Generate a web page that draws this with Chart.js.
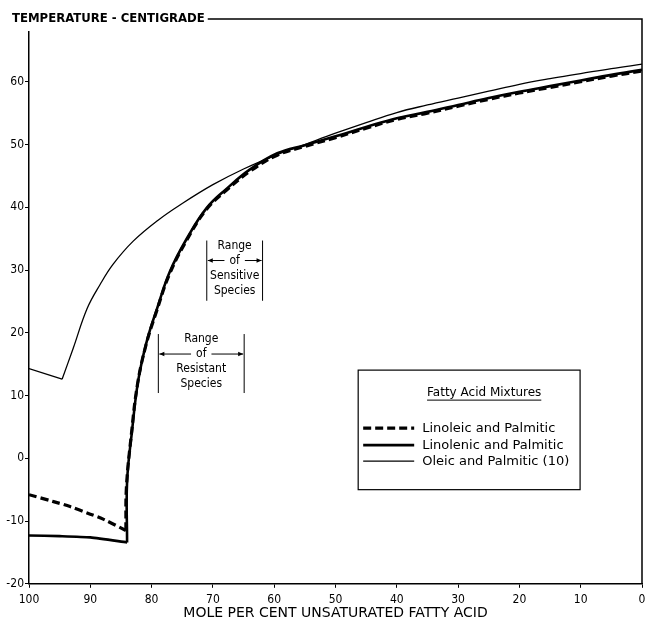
<!DOCTYPE html>
<html><head><meta charset="utf-8">
<script src="https://cdn.jsdelivr.net/npm/chart.js@4/dist/chart.umd.min.js"></script>
<style>html,body{margin:0;padding:0;background:#fff}canvas{display:block}</style>
</head><body>
<canvas id="c" width="646" height="627"></canvas>
<script>
const FONT = '"DejaVu Sans Condensed","Liberation Sans Narrow","DejaVu Sans",sans-serif';
const FONT_W = '"DejaVu Sans","Liberation Sans",sans-serif';

// ---- data ----
const yTitle = 'TEMPERATURE - CENTIGRADE';
const xTitle = 'MOLE PER CENT UNSATURATED FATTY ACID';
const seriesLabels = ['Linoleic and Palmitic', 'Linolenic and Palmitic', 'Oleic and Palmitic (10)'];
const legendTitle = 'Fatty Acid Mixtures';

const linoleicX = [100, 96, 93.3, 90, 87.9, 84.2, 84.1, 83.3, 82.3, 80.9, 79.2, 77.1, 74.3, 71.1, 67.8, 64.0, 59.5, 55.0, 50, 45, 40, 35, 30, 25, 20, 15, 10, 5, 0];
const linoleicY = [-5.8, -6.9, -7.7, -8.9, -9.7, -11.5, -4.5, 3.8, 11.8, 18.1, 23.4, 29.3, 34.7, 39.6, 42.7, 45.7, 48.3, 49.7, 51.1, 52.6, 54.0, 55.0, 56.1, 57.2, 58.2, 59.1, 60.0, 60.9, 61.7];
const linoleicCorner = 5;

const linolenicX = [100, 95, 90, 84.0, 84.0, 83.2, 82.2, 80.8, 79.1, 77.0, 74.2, 71.0, 67.7, 64.0, 59.5, 55.0, 50, 45, 40, 35, 30, 25, 20, 15, 10, 5, 0];
const linolenicY = [-12.3, -12.4, -12.6, -13.4, -3.7, 4.3, 12.3, 18.6, 23.9, 29.8, 35.1, 39.9, 43.0, 46.0, 48.6, 49.9, 51.3, 52.8, 54.2, 55.2, 56.3, 57.4, 58.4, 59.3, 60.2, 61.1, 61.9];
const linolenicCorner = 3;

const oleicX = [100, 94.6, 92.8, 90.5, 88.4, 86.3, 83.0, 79.0, 75.0, 70.0, 65.0, 60.0, 55.0, 50.0, 45.0, 40.0, 35.0, 30.0, 25.0, 20.0, 15.0, 10.0, 5.0, 0];
const oleicY = [14.3, 12.6, 17.5, 23.9, 27.7, 30.9, 34.6, 37.9, 40.6, 43.6, 46.1, 48.2, 50.0, 51.8, 53.5, 55.1, 56.3, 57.4, 58.5, 59.6, 60.5, 61.3, 62.1, 62.8];
const oleicCorner = 1;

const rangeLines = [['Range', 'of', 'Sensitive', 'Species'], ['Range', 'of', 'Resistant', 'Species']];
const rangeFrom = [71.0, 78.9];
const rangeTo = [61.9, 64.9];

const xMin = 0, xMax = 100, xStep = 10;
const yMin = -20, yMax = 70, yStep = 10;

// ---- build datasets ----
function pts(xs, ys, a, b) {
  const out = [];
  for (let i = a; i < b; i++) out.push({x: xs[i], y: ys[i]});
  return out;
}
const styles = [
  {borderWidth: 3.2, borderDash: [8, 4], order: 1},
  {borderWidth: 2.6, borderDash: [], order: 2},
  {borderWidth: 1.3, borderDash: [], order: 0}
];
const series = [
  [linoleicX, linoleicY, linoleicCorner, 0.3],
  [linolenicX, linolenicY, linolenicCorner, 0.2],
  [oleicX, oleicY, oleicCorner, 0]
];
const datasets = [];
series.forEach((s, i) => {
  const [xs, ys, c, t0] = s;
  const base = {label: seriesLabels[i], borderColor: '#000', backgroundColor: '#000', pointRadius: 0,
    fill: false, borderWidth: styles[i].borderWidth, borderDash: styles[i].borderDash, order: styles[i].order,
    borderCapStyle: 'butt', borderJoinStyle: 'miter'};
  datasets.push(Object.assign({}, base, {data: pts(xs, ys, 0, c + 1), tension: t0}));
  datasets.push(Object.assign({}, base, {data: pts(xs, ys, c, xs.length), tension: 0.4}));
});

const decor = {
  id: 'decor',
  afterDraw(chart) {
    const {ctx, chartArea: ca, scales: {x, y}} = chart;
    ctx.save();
    ctx.strokeStyle = '#000';
    ctx.fillStyle = '#000';
    // vertical-axis title at top-left, then frame top and right
    ctx.font = 'bold 13px ' + FONT;
    ctx.textAlign = 'left';
    ctx.textBaseline = 'middle';
    const tw = ctx.measureText(yTitle).width;
    ctx.fillStyle = '#fff';
    ctx.fillRect(10, ca.top - 10, tw + 4, 22);
    ctx.fillStyle = '#000';
    ctx.fillText(yTitle, 12, ca.top);
    ctx.lineWidth = 1.5;
    ctx.beginPath();
    ctx.moveTo(12 + tw + 3, ca.top);
    ctx.lineTo(ca.right, ca.top);
    ctx.lineTo(ca.right, ca.bottom);
    ctx.stroke();

    // range annotations
    const tops = [y.getPixelForValue(34.7), y.getPixelForValue(19.8)];
    const bots = [y.getPixelForValue(25.1), y.getPixelForValue(10.4)];
    ctx.font = '12px ' + FONT;
    ctx.textAlign = 'center';
    ctx.textBaseline = 'middle';
    rangeLines.forEach((lines, i) => {
      const xl = x.getPixelForValue(rangeFrom[i]);
      const xr = x.getPixelForValue(rangeTo[i]);
      const t = tops[i], b = bots[i];
      const cx = (xl + xr) / 2;
      ctx.lineWidth = 1;
      ctx.beginPath();
      ctx.moveTo(xl, t); ctx.lineTo(xl, b);
      ctx.moveTo(xr, t); ctx.lineTo(xr, b);
      ctx.stroke();
      const step = 15;
      const y0 = t + 5;
      lines.forEach((ln, k) => ctx.fillText(ln, cx, y0 + k * step));
      const ay = y0 + step;
      const ow = ctx.measureText(lines[1]).width / 2 + 5;
      ctx.beginPath();
      ctx.moveTo(xl + 1, ay); ctx.lineTo(cx - ow, ay);
      ctx.moveTo(cx + ow, ay); ctx.lineTo(xr - 1, ay);
      ctx.stroke();
      ctx.beginPath();
      ctx.moveTo(xl + 1, ay); ctx.lineTo(xl + 6, ay - 2.2); ctx.lineTo(xl + 6, ay + 2.2); ctx.closePath();
      ctx.moveTo(xr - 1, ay); ctx.lineTo(xr - 6, ay - 2.2); ctx.lineTo(xr - 6, ay + 2.2); ctx.closePath();
      ctx.fill();
    });

    // legend box
    const bx = x.getPixelForValue(46.3), bx2 = x.getPixelForValue(10.1);
    const by = y.getPixelForValue(14.05), by2 = y.getPixelForValue(-5.0);
    ctx.lineWidth = 1.2;
    ctx.strokeRect(bx, by, bx2 - bx, by2 - by);
    ctx.font = '12px ' + FONT_W;
    ctx.textAlign = 'center';
    const tcx = bx + 126, tcy = by + 23;
    ctx.fillText(legendTitle, tcx, tcy);
    const lw = ctx.measureText(legendTitle).width;
    ctx.lineWidth = 1;
    ctx.beginPath();
    ctx.moveTo(tcx - lw / 2, tcy + 7); ctx.lineTo(tcx + lw / 2, tcy + 7);
    ctx.stroke();
    ctx.textAlign = 'left';
    ctx.font = '13px ' + FONT_W;
    const rows = [by + 58, by + 75, by + 91];
    seriesLabels.forEach((lab, i) => {
      ctx.lineWidth = styles[i].borderWidth;
      ctx.setLineDash(styles[i].borderDash);
      ctx.beginPath();
      ctx.moveTo(bx + 5, rows[i]); ctx.lineTo(bx + 56, rows[i]);
      ctx.stroke();
      ctx.setLineDash([]);
      ctx.fillText(lab, bx + 64, rows[i] + 1);
    });
    ctx.restore();
  }
};

new Chart(document.getElementById('c'), {
  type: 'line',
  data: {datasets},
  plugins: [decor],
  options: {
    responsive: false,
    animation: false,
    devicePixelRatio: 1,
    layout: {padding: {left: 2, right: 4, top: 19, bottom: 5}},
    plugins: {
      legend: {display: false},
      tooltip: {enabled: false},
      title: {display: false}
    },
    scales: {
      x: {
        type: 'linear', reverse: true, min: xMin, max: xMax,
        ticks: {stepSize: xStep, color: '#000', font: {family: FONT, size: 12}, padding: 5, maxRotation: 0},
        grid: {drawOnChartArea: false, color: '#000', tickLength: 4, lineWidth: 1},
        border: {display: true, color: '#000', width: 1.5},
        title: {display: true, text: xTitle, color: '#000', font: {family: FONT_W, size: 14}, padding: {top: -7, bottom: 0}},
        afterFit: s => { s.paddingRight = 2; }
      },
      y: {
        type: 'linear', min: yMin, max: yMax,
        ticks: {stepSize: yStep, color: '#000', font: {family: FONT, size: 12}, padding: 1,
          callback: v => (v === yMax ? '' : String(v))},
        grid: {drawOnChartArea: false, color: '#000', tickLength: 4, lineWidth: 1},
        border: {display: true, color: '#000', width: 1.5},
        afterFit: s => { s.width = 27; }
      }
    }
  }
});
</script>
</body></html>
